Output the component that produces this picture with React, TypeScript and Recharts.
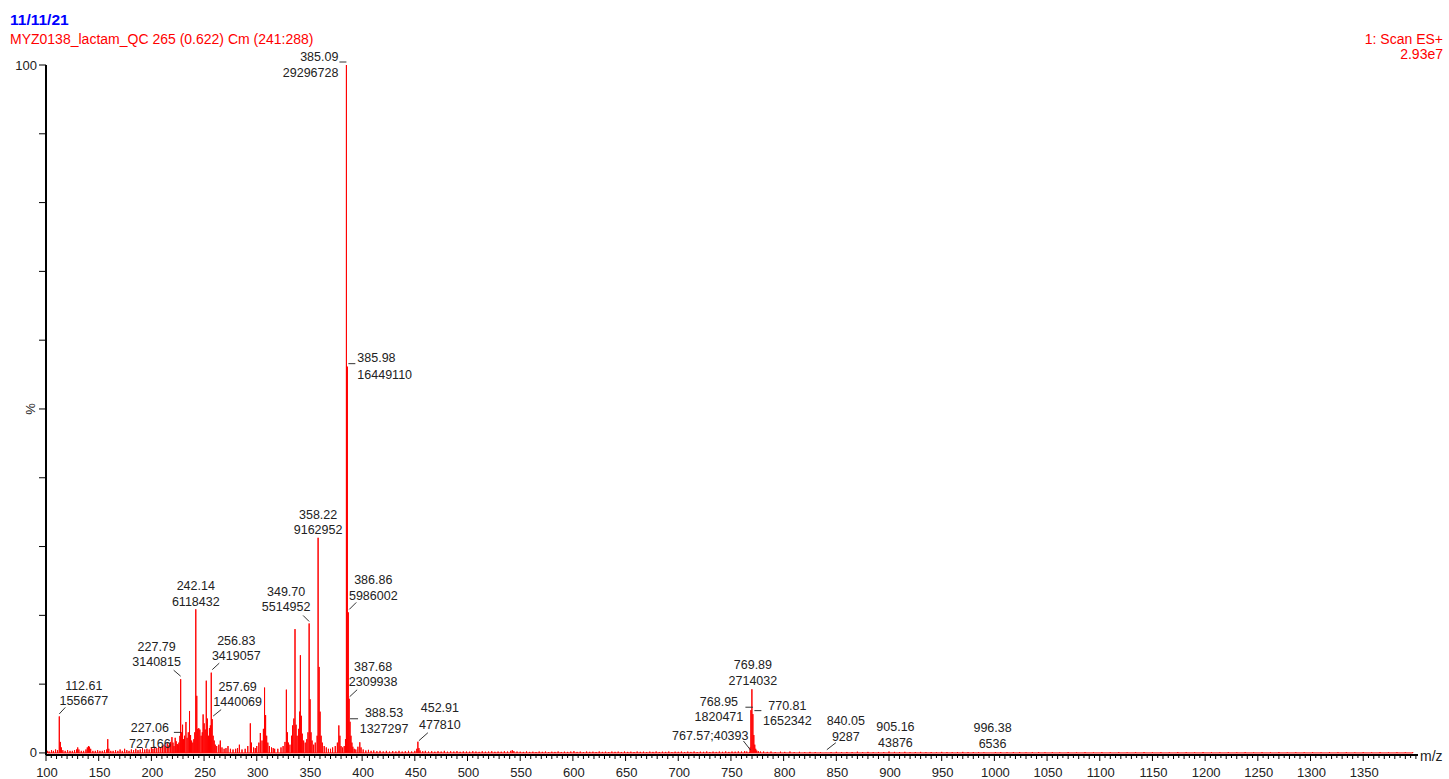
import React from 'react';
import { ComposedChart, Line, XAxis, YAxis, ReferenceDot } from 'recharts';

type Peak = [number, number]; // [m/z, relative intensity %]

const lowMassPeaks: Peak[] = [
  [101.5, 0.3], [103, 0.2], [105.2, 0.4], [107, 0.3], [109.1, 0.5], [111, 0.4], [112.61, 5.31],
  [113.6, 1.6], [114.6, 0.8], [116, 0.4], [118.2, 0.3], [120.5, 0.4], [122.8, 0.3], [125, 0.3],
  [127.1, 0.4], [129, 0.5], [130.1, 0.8], [131.2, 0.5], [133.5, 0.3], [135.7, 0.3], [137.9, 0.5],
  [139.2, 0.8], [140.3, 1.0], [141.3, 0.9], [142.4, 0.6], [144.5, 0.3], [146.8, 0.3], [149, 0.4],
  [151.2, 0.3], [153.4, 0.3], [155.5, 0.4], [157.6, 0.5], [158.6, 2.0], [159.6, 0.6], [161.5, 0.3],
  [163.7, 0.3], [166, 0.4], [168.2, 0.3], [170.3, 0.5], [172.4, 0.3], [174.6, 0.6], [176.7, 0.4],
  [178.8, 0.3], [181, 0.5], [183.1, 0.4], [185.2, 0.6], [187.3, 0.4], [189.4, 0.5], [191.6, 0.7],
  [193.7, 0.5], [195.8, 0.6], [197.9, 0.5], [200, 0.8], [201.5, 0.6], [203.2, 0.9], [205.1, 0.7],
  [207, 0.9], [208.9, 0.8], [210.5, 1.0], [212.1, 1.2], [213.6, 0.9], [215.1, 1.4], [216.6, 1.1],
  [218, 1.6], [219.5, 2.3], [220.5, 1.5], [221.5, 1.0], [222.6, 2.2], [223.5, 1.7], [224.5, 1.3],
  [225.3, 1.2], [226.1, 1.5],
];

const mainClusterPeaks: Peak[] = [
  [227.06, 2.48], [227.79, 10.72], [228.7, 3.0], [229.6, 4.1], [230.5, 2.0], [231.5, 2.5],
  [232.8, 4.5], [233.9, 2.2], [235.0, 3.0], [236.2, 6.1], [237.2, 2.6], [238.2, 1.8], [239.3, 1.5],
  [240.3, 2.0], [241.2, 3.0], [242.14, 20.88], [243.1, 8.3], [244.0, 3.5], [245.0, 3.6],
  [246.0, 3.4], [247.2, 2.5], [248.3, 3.0], [249.1, 5.6], [250.1, 4.3], [251.1, 3.4], [252.1, 10.5],
  [253.1, 5.0], [254.1, 2.5], [255.1, 3.6], [256.0, 4.0], [256.83, 11.67], [257.69, 4.92],
  [258.6, 2.5], [259.6, 1.8], [260.6, 1.2], [262, 1.0], [264, 1.2], [265.4, 1.8], [267, 0.8],
  [269, 0.6], [270.8, 0.7], [272.7, 1.0], [275, 0.6], [277.5, 0.5], [280, 0.6], [281.8, 0.7],
  [283.5, 1.2], [286, 0.5], [289, 0.6], [291.5, 1.0], [293.9, 4.3], [295, 1.5], [297, 0.8],
  [298.6, 0.7], [300, 1.0], [302, 1.5], [303.4, 2.9], [305, 1.8], [306.3, 3.5], [307.4, 9.5],
  [308.4, 5.5], [309.4, 2.5], [310.5, 1.5], [312, 1.0], [314, 0.8], [315.6, 0.7], [317, 0.6],
  [320, 0.6], [323, 0.8], [325, 1.0], [326.8, 1.6], [328.1, 9.2], [329.1, 3.0], [330.1, 1.5],
  [331.5, 1.2], [333.0, 2.5], [334.0, 4.0], [335.2, 5.0], [336.3, 18.0], [337.3, 4.1],
  [338.3, 2.5], [339.6, 3.5], [340.6, 6.0], [341.4, 14.2], [342.3, 5.4], [343.2, 2.8],
  [344.5, 1.8], [346, 1.5], [347.5, 2.0], [348.6, 3.0], [349.70, 18.82], [350.6, 7.8],
  [351.5, 3.0], [352.5, 1.8], [354, 1.2], [355.5, 1.5], [357.3, 2.5], [358.22, 31.28],
  [359.2, 12.5], [360.1, 6.0], [361.1, 2.5], [362.2, 1.5], [364, 1.0], [366, 0.8], [368, 0.6],
  [370, 0.6], [372, 0.8], [374.5, 1.0], [376.5, 1.5], [377.9, 4.0], [378.9, 2.5], [380, 1.0],
  [381.5, 0.8], [383, 1.0], [384.2, 2.0], [385.09, 100], [385.98, 56.15], [386.86, 20.43],
  [387.68, 7.88], [388.53, 4.53], [389.4, 2.5], [390.3, 1.5], [391.2, 0.9], [392.5, 0.6],
  [394, 0.5], [396, 0.9], [397.8, 1.55], [399, 0.8],
];

const midMassPeaks: Peak[] = [
  [401, 0.5], [403.5, 0.35], [406, 0.45], [408.5, 0.3], [411, 0.35], [414, 0.25], [417, 0.3],
  [420, 0.22], [423, 0.3], [426, 0.2], [429, 0.28], [432, 0.22], [435, 0.3], [438, 0.2],
  [441, 0.25], [444, 0.3], [447, 0.22], [450, 0.3], [451.9, 0.6], [452.91, 1.63], [453.9, 0.7],
  [455, 0.35], [457.5, 0.25], [460, 0.3], [463, 0.2], [466, 0.26], [469, 0.18], [472, 0.25],
  [475, 0.2], [478, 0.3], [481, 0.18], [484, 0.24], [487, 0.2], [490, 0.26], [493, 0.17],
  [496, 0.22], [499, 0.2], [502, 0.18], [505, 0.25], [508, 0.2], [511, 0.16], [514, 0.24],
  [517, 0.18], [520, 0.2], [523, 0.25], [526, 0.17], [529, 0.2], [532, 0.18], [535, 0.24],
  [538, 0.2], [541, 0.3], [542.5, 0.4], [544, 0.26], [547, 0.2], [550, 0.18], [553, 0.15],
  [556, 0.22], [559, 0.15], [562, 0.18], [565, 0.14], [568, 0.2], [571, 0.16], [574, 0.2],
  [577, 0.13], [580, 0.18], [583, 0.15], [586, 0.21], [589, 0.14], [592, 0.18], [595, 0.15],
  [598, 0.2], [601, 0.25], [604, 0.15], [607, 0.19], [610, 0.13], [613, 0.2], [616, 0.16],
  [619, 0.18], [622, 0.14], [625, 0.21], [628, 0.15], [631, 0.18], [634, 0.13], [637, 0.2],
  [640, 0.16], [643, 0.19], [646, 0.14], [649, 0.2], [652, 0.15], [655, 0.18], [658, 0.13],
  [661, 0.2], [664, 0.16], [667, 0.18], [670, 0.14], [673, 0.19], [676, 0.15], [679, 0.21],
  [682, 0.14], [685, 0.18], [688, 0.15], [691, 0.2], [694, 0.13], [697, 0.18], [700, 0.16],
  [703, 0.2], [706, 0.14], [709, 0.19], [712, 0.15], [715, 0.2], [718, 0.13], [721, 0.18],
  [724, 0.16], [727, 0.21], [730, 0.14], [733, 0.19], [736, 0.15], [739, 0.2], [742, 0.16],
  [745, 0.22], [748, 0.15], [751, 0.2], [754, 0.18], [757, 0.22], [760, 0.2], [763, 0.25],
  [765, 0.2],
];

const dimerPeaks: Peak[] = [
  [767.57, 0.14], [768.2, 0.8], [768.95, 6.21], [769.89, 9.26], [770.81, 5.64], [771.7, 2.6],
  [772.6, 1.2], [773.5, 0.6], [774.5, 0.35], [776, 0.25], [778, 0.2],
];

const highMassPeaks: Peak[] = [
  [781, 0.2], [784.5, 0.15], [788, 0.2], [792, 0.12], [797, 0.18], [801, 0.15], [806, 0.2],
  [810, 0.12], [815, 0.16], [820, 0.1], [825, 0.15], [830, 0.12], [835, 0.1], [840.05, 0.03],
  [845, 0.12], [850, 0.16], [855, 0.1], [860, 0.14], [865, 0.12], [870, 0.18], [875, 0.11],
  [880, 0.15], [885, 0.1], [890, 0.14], [895, 0.12], [900, 0.2], [905.16, 0.15], [910, 0.12],
  [915, 0.16], [920, 0.1], [925, 0.13], [930, 0.15], [935, 0.1], [940, 0.12], [945, 0.09],
  [950, 0.15], [955, 0.12], [960, 0.1], [965, 0.13], [970, 0.15], [975, 0.1], [980, 0.12],
  [985, 0.1], [990, 0.08], [996.38, 0.02], [1001, 0.1], [1006, 0.12], [1012, 0.08], [1018, 0.11],
  [1024, 0.12], [1030, 0.07], [1036, 0.1], [1042, 0.12], [1048, 0.08], [1055, 0.1], [1062, 0.07],
  [1070, 0.11], [1078, 0.08], [1086, 0.1], [1094, 0.07], [1102, 0.11], [1110, 0.08], [1118, 0.1],
  [1126, 0.07], [1134, 0.1], [1142, 0.12], [1150, 0.08], [1158, 0.1], [1166, 0.07], [1174, 0.12],
  [1182, 0.1], [1190, 0.08], [1198, 0.12], [1206, 0.1], [1214, 0.07], [1222, 0.1], [1230, 0.08],
  [1238, 0.11], [1246, 0.07], [1254, 0.1], [1262, 0.08], [1270, 0.11], [1278, 0.07], [1286, 0.1],
  [1294, 0.08], [1302, 0.1], [1310, 0.07], [1318, 0.11], [1326, 0.08], [1334, 0.1], [1342, 0.07],
  [1350, 0.1], [1358, 0.08], [1366, 0.11], [1374, 0.07], [1382, 0.1], [1390, 0.08], [1397, 0.1],
];

const xMajorTicks: number[] = [100, 150, 200, 250, 300, 350, 400, 450, 500, 550, 600, 650, 700, 750, 800, 850, 900, 950, 1000, 1050, 1100, 1150, 1200, 1250, 1300, 1350];
const yTicks: number[] = [0, 10, 20, 30, 40, 50, 60, 70, 80, 90, 100];
const yTickLabels: Record<number, string> = { 0: '0', 50: '%', 100: '100' };

const annotMz: number[] = [385.09, 385.98, 358.22, 349.70, 386.86, 387.68, 388.53, 452.91, 242.14, 227.79, 256.83, 257.69, 227.06, 112.61, 769.89, 768.95, 770.81, 767.57, 840.05, 905.16, 996.38];
const annotLine1: string[] = ['385.09', '385.98', '358.22', '349.70', '386.86', '387.68', '388.53', '452.91', '242.14', '227.79', '256.83', '257.69', '227.06', '112.61', '769.89', '768.95', '770.81', '767.57;40393', '840.05', '905.16', '996.38'];
const annotLine2: string[] = ['29296728', '16449110', '9162952', '5514952', '5986002', '2309938', '1327297', '477810', '6118432', '3140815', '3419057', '1440069', '727166', '1556677', '2714032', '1820471', '1652342', '', '9287', '43876', '6536'];

// label layout (pixel offsets from the peak top) — styling only
type Layout = { anchor: 'start' | 'middle' | 'end'; dx: number; dy1: number; dy2: number; seg?: [number, number, number, number] };
const annotLayout: Layout[] = [
  { anchor: 'end', dx: -8, dy1: -4, dy2: 12, seg: [-7, -3, 0, -3] },
  { anchor: 'start', dx: 10, dy1: -5, dy2: 12, seg: [1, -3, 8, -3] },
  { anchor: 'middle', dx: 0, dy1: -19, dy2: -4 },
  { anchor: 'middle', dx: -23, dy1: -27, dy2: -12, seg: [-6, -8, 0, -2] },
  { anchor: 'middle', dx: 25, dy1: -28, dy2: -12, seg: [8, -10, 1, -3] },
  { anchor: 'middle', dx: 24, dy1: -28, dy2: -13, seg: [8, -9, 0.5, -2] },
  { anchor: 'middle', dx: 34, dy1: -5, dy2: 11, seg: [0, -3, 8, -3] },
  { anchor: 'middle', dx: 22, dy1: -30, dy2: -13, seg: [10, -9, 1, -1] },
  { anchor: 'middle', dx: 0, dy1: -19, dy2: -3 },
  { anchor: 'middle', dx: -24, dy1: -28, dy2: -13, seg: [-7, -9, 0, -3] },
  { anchor: 'middle', dx: 25, dy1: -27.5, dy2: -12.5, seg: [8, -9.5, 1, -3] },
  { anchor: 'middle', dx: 25.5, dy1: -28, dy2: -13, seg: [9, -9.5, 1, -3] },
  { anchor: 'middle', dx: -30, dy1: -4, dy2: 12, seg: [-6, -3.5, 1, -3.5] },
  { anchor: 'middle', dx: 24.5, dy1: -26.5, dy2: -11.5, seg: [6, -9, 0, -2.5] },
  { anchor: 'middle', dx: 1, dy1: -20, dy2: -4.5 },
  { anchor: 'middle', dx: -32, dy1: -4, dy2: 11, seg: [-5.5, -3, 2, -3] },
  { anchor: 'middle', dx: 34.5, dy1: -4, dy2: 11, seg: [1.5, -3.5, 8.5, -3.5] },
  { anchor: 'end', dx: -1, dy1: -12, dy2: 0, seg: [-6, -11, 1, -2] },
  { anchor: 'middle', dx: 20, dy1: -28, dy2: -12, seg: [10, -10, 1, -3] },
  { anchor: 'middle', dx: 1, dy1: -21, dy2: -5 },
  { anchor: 'middle', dx: 2, dy1: -21, dy2: -5 },
];

const FONT = '"Liberation Sans", Arial, sans-serif';
const RED = '#ff0000';

const allPeaks: Peak[] = [...lowMassPeaks, ...mainClusterPeaks, ...midMassPeaks, ...dimerPeaks, ...highMassPeaks].sort((a, b) => a[0] - b[0]);
const stickData = allPeaks.flatMap(([mz, pct]) => [
  { mz, i: 0 },
  { mz, i: pct },
  { mz, i: 0 },
]);
const peakPct = (mz: number) => {
  const p = allPeaks.find((q) => Math.abs(q[0] - mz) < 0.001);
  return p ? p[1] : 0;
};

const xTickValues: number[] = [];
for (let v = 100; v <= 1400; v += 5) xTickValues.push(v);

const XTick = (props: any) => {
  const { x, y, payload } = props;
  const v = payload.value as number;
  const isMajor = xMajorTicks.includes(v);
  const len = isMajor ? 6 : v % 10 === 0 ? 4 : 3;
  return (
    <g>
      <line x1={x} y1={y} x2={x} y2={y + len} stroke="#000" strokeWidth={1} />
      {isMajor && (
        <text x={x + 1} y={y + 21.5} textAnchor="middle" fontSize={13} fontFamily={FONT} fill="#222">
          {v}
        </text>
      )}
    </g>
  );
};

const YTick = (props: any) => {
  const { x, y, payload } = props;
  const v = payload.value as number;
  const label = yTickLabels[v];
  return (
    <g>
      <line x1={x - 7} y1={y} x2={x} y2={y} stroke="#000" strokeWidth={1} />
      {label && label !== '%' && (
        <text x={x - 9} y={y + 4.5} textAnchor="end" fontSize={13} fontFamily={FONT} fill="#222">
          {label}
        </text>
      )}
      {label === '%' && (
        <text x={x - 8} y={y} textAnchor="middle" fontSize={13} fontFamily={FONT} fill="#222" transform={`rotate(-90 ${x - 8} ${y}) translate(0 -3)`}>
          {label}
        </text>
      )}
    </g>
  );
};

const makeAnnot = (idx: number) => (p: any) => {
  const { cx, cy } = p;
  const L = annotLayout[idx];
  return (
    <g>
      {L.seg && (
        <line x1={cx + L.seg[0]} y1={cy + L.seg[1]} x2={cx + L.seg[2]} y2={cy + L.seg[3]} stroke="#333" strokeWidth={1} />
      )}
      <text x={cx + L.dx} y={cy + L.dy1} textAnchor={L.anchor} fontSize={12.5} fontFamily={FONT} fill="#222">
        {annotLine1[idx]}
      </text>
      {annotLine2[idx] && (
        <text x={cx + L.dx} y={cy + L.dy2} textAnchor={L.anchor} fontSize={12.5} fontFamily={FONT} fill="#222">
          {annotLine2[idx]}
        </text>
      )}
    </g>
  );
};

export default function App() {
  return (
    <div style={{ position: 'absolute', left: 0, top: 0, width: 1449, height: 779, background: '#fff' }}>
      <ComposedChart
        width={1449}
        height={779}
        data={stickData}
        margin={{ top: 65, right: 31, left: 0, bottom: 0 }}
      >
        <XAxis
          dataKey="mz"
          type="number"
          domain={[100, 1402]}
          allowDataOverflow
          ticks={xTickValues}
          interval={0}
          tick={<XTick />}
          tickLine={false}
          tickSize={0}
          tickMargin={0}
          height={24}
          axisLine={{ stroke: '#000', strokeWidth: 2 }}
        />
        <YAxis
          type="number"
          domain={[-0.3, 100]}
          allowDataOverflow
          ticks={yTicks}
          interval={0}
          tick={<YTick />}
          tickLine={false}
          tickSize={0}
          tickMargin={0}
          width={46}
          axisLine={{ stroke: '#000', strokeWidth: 2 }}
        />
        <Line
          dataKey="i"
          type="linear"
          stroke={RED}
          strokeWidth={1}
          dot={false}
          activeDot={false}
          isAnimationActive={false}
        />
        {annotMz.map((mz, idx) => (
          <ReferenceDot
            key={idx}
            x={mz}
            y={peakPct(mz)}
            r={0}
            ifOverflow="visible"
            shape={makeAnnot(idx)}
          />
        ))}
      </ComposedChart>
      <svg width={1449} height={779} style={{ position: 'absolute', left: 0, top: 0, pointerEvents: 'none' }}>
        <text x={10} y={25} fontSize={15.5} fontWeight="bold" fontFamily={FONT} fill="#0000ff">11/11/21</text>
        <text x={10} y={44} fontSize={14} fontFamily={FONT} fill={RED}>MYZ0138_lactam_QC 265 (0.622) Cm (241:288)</text>
        <text x={1443} y={44} textAnchor="end" fontSize={14} fontFamily={FONT} fill={RED}>1: Scan ES+</text>
        <text x={1443} y={58.5} textAnchor="end" fontSize={14} fontFamily={FONT} fill={RED}>2.93e7</text>
        <text x={1420} y={761} fontSize={14} fontFamily={FONT} fill="#222">m/z</text>
      </svg>
    </div>
  );
}
